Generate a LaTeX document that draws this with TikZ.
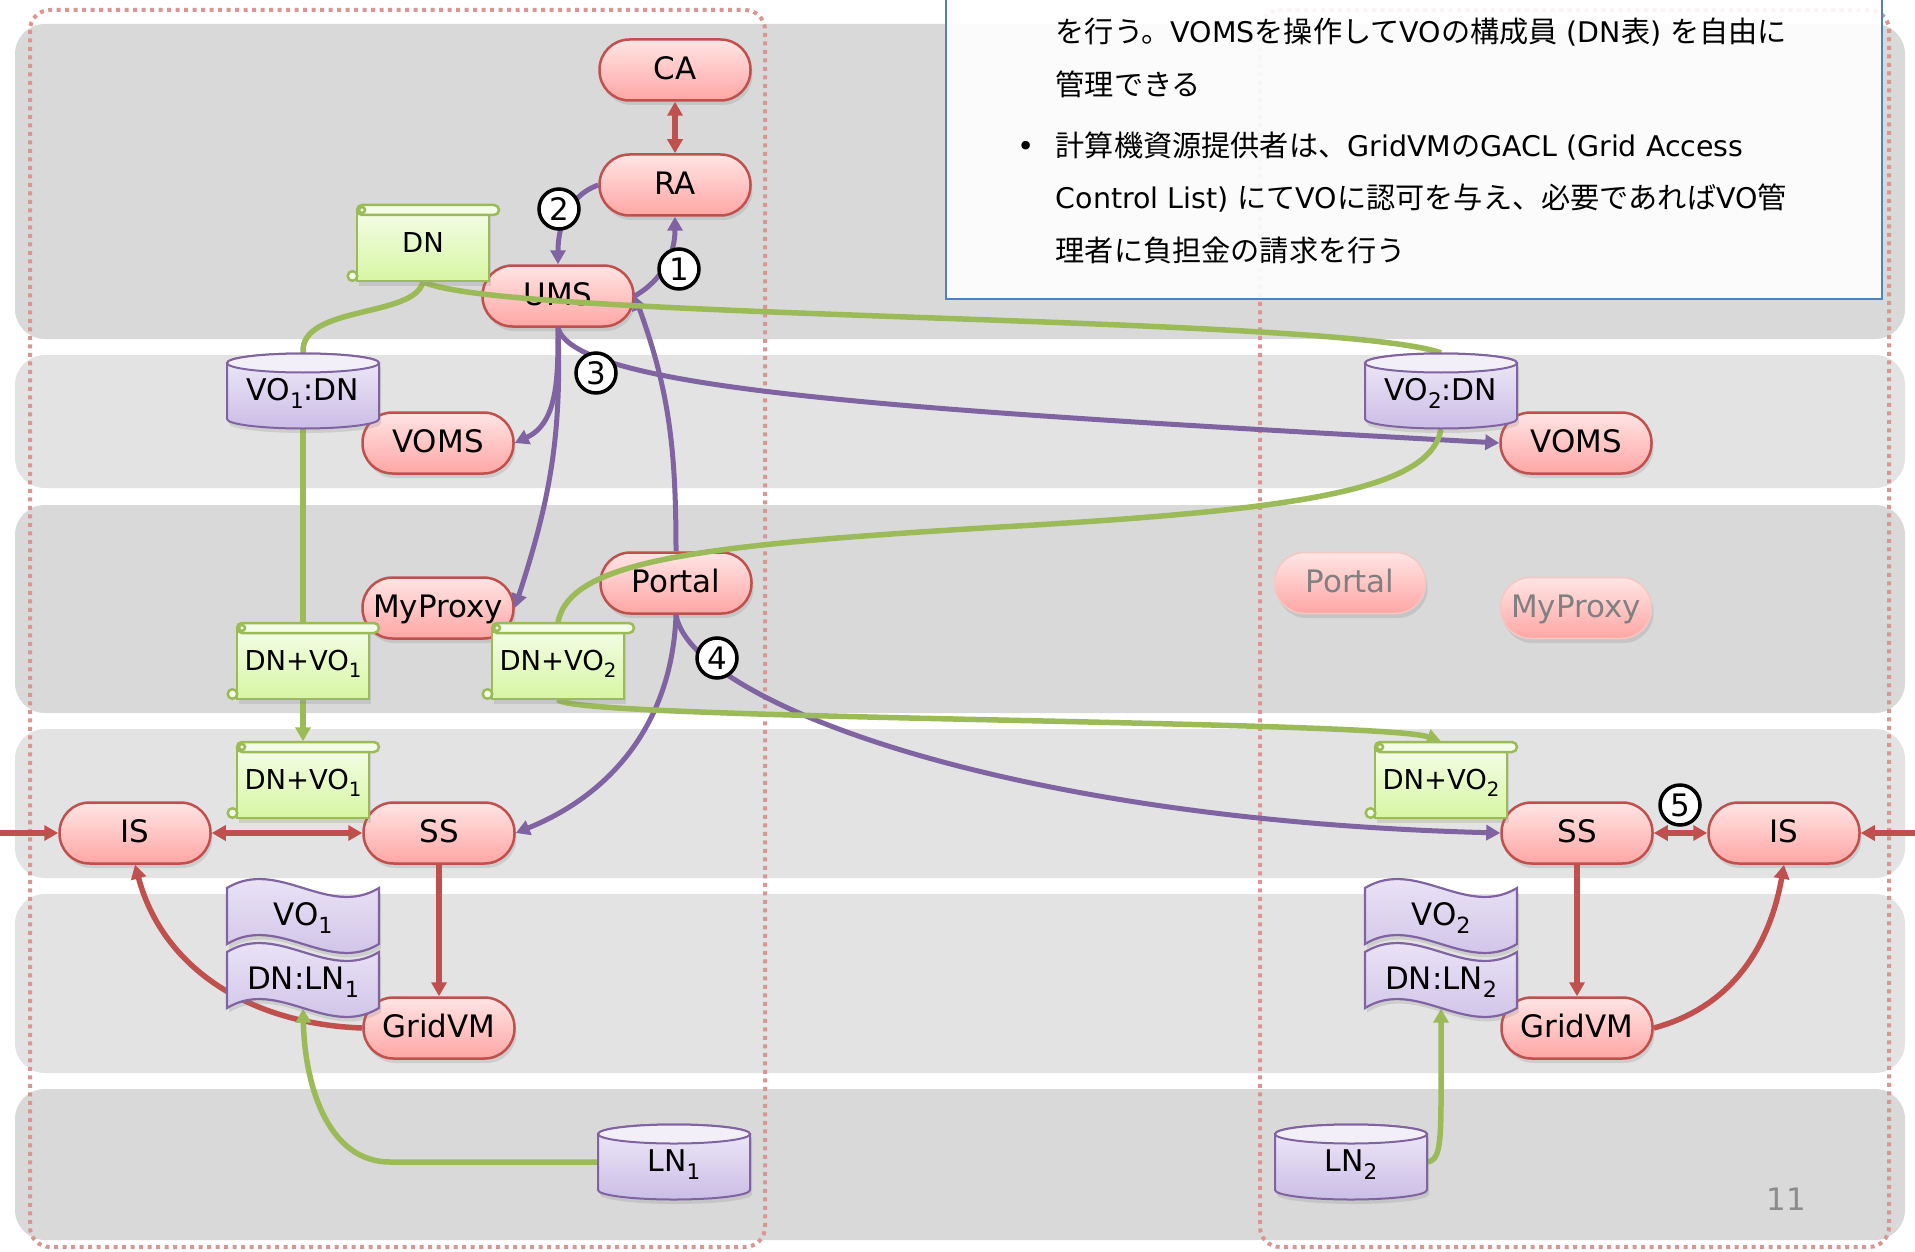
\documentclass[tikz,border=0pt]{standalone}
\usepackage{fontspec}
\usepackage{graphicx}
\setmainfont{DejaVu Sans}
\newfontfamily\jpfont{Noto Sans CJK JP}
\newfontfamily\latfont{DejaVu Sans}
\usetikzlibrary{arrows.meta,shadows}

\pgfdeclarelayer{bg}
\pgfdeclarelayer{pills}
\pgfdeclarelayer{edges}
\pgfdeclarelayer{top}
\pgfsetlayers{bg,pills,edges,main,top}

\definecolor{bandA}{RGB}{217,217,217}
\definecolor{bandB}{RGB}{227,227,227}
\definecolor{dotpink}{RGB}{217,150,148}
\definecolor{noteblue}{RGB}{79,129,189}
\definecolor{redline}{RGB}{192,80,77}
\definecolor{purpline}{RGB}{128,100,162}
\definecolor{grnline}{RGB}{155,187,89}
\definecolor{pinktop}{RGB}{255,229,229}
\definecolor{pinkbot}{RGB}{255,166,164}
\definecolor{lilactop}{RGB}{240,235,248}
\definecolor{lilacbot}{RGB}{203,189,230}
\definecolor{lilaclid}{RGB}{243,239,249}
\definecolor{limetop}{RGB}{243,253,230}
\definecolor{limebot}{RGB}{215,246,162}
\definecolor{fadeline}{RGB}{242,200,196}
\definecolor{fadetext}{RGB}{128,128,128}
\definecolor{pagegray}{RGB}{140,140,140}

\newcommand\pillfont{\fontsize{8.8pt}{10pt}\selectfont}
\newcommand\drumfont{\fontsize{8.5pt}{10pt}\selectfont}
\newcommand\scrollfont{\fontsize{7.8pt}{9pt}\selectfont}
\newcommand\idx[1]{\raisebox{-0.45ex}{\scalebox{0.72}{#1}}}
% Latin runs inside the Japanese note
\newcommand\lat[1]{{\latfont\fontsize{8.1pt}{10pt}\selectfont #1}}

\tikzset{
  >={Triangle[length=1.4mm,width=1.5mm]},
  shadowed/.style={drop shadow={shadow xshift=0.2mm, shadow yshift=-0.45mm, opacity=0.22}},
  pill/.style={rectangle, rounded corners=3mm, minimum width=15.1mm, minimum height=6.1mm,
    inner sep=0pt, draw=redline, line width=0.25mm, top color=pinktop, bottom color=pinkbot,
    shadowed, font=\pillfont, text height=0.75em, text depth=0.2em},
  ghostpill/.style={pill, draw=fadeline, line width=0.15mm, text=fadetext},
  drumbody/.style={draw=purpline, line width=0.2mm, top color=lilactop, bottom color=lilacbot, shadowed},
  drumlid/.style={draw=purpline, line width=0.2mm, fill=lilaclid},
  drumtext/.style={inner sep=0pt, minimum width=15.2mm, minimum height=7.5mm, font=\drumfont,
    text height=0.75em, text depth=0.2em},
  scrollbody/.style={draw=grnline, line width=0.25mm, top color=limetop, bottom color=limebot, shadowed},
  scrollcurl/.style={draw=grnline, line width=0.25mm, fill=limetop},
  scrolltext/.style={inner sep=0pt, minimum width=13.2mm, minimum height=7.6mm, font=\scrollfont,
    text height=0.75em, text depth=0.2em},
  wavebody/.style={draw=purpline, line width=0.22mm, top color=lilactop, bottom color=lilacbot, shadowed},
  wavetext/.style={inner sep=0pt, minimum width=15.2mm, minimum height=5.6mm, font=\pillfont,
    text height=0.75em, text depth=0.2em},
  outline/.style={draw=dotpink, line width=0.4mm, dash pattern=on 0.4mm off 0.45mm, rounded corners=2mm},
  notebox/.style={draw=noteblue, line width=0.2mm, fill=white, fill opacity=0.9, text opacity=1},
  jpline/.style={anchor=base west, inner sep=0pt, font=\jpfont\fontsize{8.3pt}{10pt}\selectfont},
  redarr/.style={draw=redline, line width=0.55mm, ->},
  redboth/.style={draw=redline, line width=0.65mm, <->},
  purparr/.style={draw=purpline, line width=0.5mm, ->},
  greenrun/.style={draw=grnline, line width=0.55mm},
  greenarr/.style={greenrun, ->},
  numdisc/.style={circle, draw=black, line width=0.35mm, fill=white, minimum size=4mm,
    inner sep=0pt, font=\pillfont},
}

% cylinder with a label node on top
\newcommand\drumshape[3]{%
  \begin{scope}[shift={#2}]
    \path[drumbody] (-76,28) -- (-76,-28)
      arc[start angle=180,end angle=360,x radius=7.6mm,y radius=0.95mm] -- (76,28)
      arc[start angle=0,end angle=180,x radius=7.6mm,y radius=0.95mm] -- cycle;
    \path[drumlid] (0,28) ellipse[x radius=7.6mm,y radius=0.95mm];
  \end{scope}
  \node[drumtext] (#1) at #2 {#3};
}
% vertical scroll with a label node
\newcommand\scrollshape[3]{%
  \begin{scope}[shift={#2}]
    \path[scrollbody] (-66,-38) rectangle (66,31);
    \path[scrollcurl] (-70.5,-33) circle[radius=0.48mm];
    \path[scrollcurl, rounded corners=0.5mm] (-66,28) rectangle (76,38);
    \path[scrollcurl] (-61,33) circle[radius=0.3mm];
  \end{scope}
  \node[scrolltext] (#1) at #2 {#3};
}
% wavy banner with a label node
\newcommand\waveshape[3]{%
  \begin{scope}[shift={#2}]
    \path[wavebody] (-76,28) .. controls (-25,59) and (25,-3) .. (76,28) -- (76,-28)
      .. controls (25,-59) and (-25,3) .. (-76,-28) -- cycle;
  \end{scope}
  \node[wavetext] (#1) at #2 {#3};
}

\begin{document}
\begin{tikzpicture}[x=0.1mm, y=0.1mm]
\useasboundingbox (0,0) rectangle (1915,-1252);

% ---------- background bands, domain outlines, note ----------
\begin{pgfonlayer}{bg}
  \fill[bandA, rounded corners=3mm] (15,-24) rectangle (1905,-339);
  \fill[bandB, rounded corners=3mm] (15,-355) rectangle (1905,-488);
  \fill[bandA, rounded corners=3mm] (15,-505) rectangle (1905,-713);
  \fill[bandB, rounded corners=3mm] (15,-729) rectangle (1905,-878);
  \fill[bandB, rounded corners=3mm] (15,-894) rectangle (1905,-1073);
  \fill[bandA, rounded corners=3mm] (15,-1089) rectangle (1905,-1240);

  \draw[outline] (30,-10) rectangle (765,-1247);
  \draw[outline] (1260,-10) rectangle (1889,-1247);

  \node[notebox, anchor=north west, minimum width=93.6mm, minimum height=30.8mm, inner sep=0pt]
    (note) at (945,10) {};
  \node[jpline] (jl1) at (1055,-43) {を行う。\lat{VOMS}を操作して\lat{VO}の構成員\lat{ (DN}表\lat{) }を自由に};
  \node[jpline] (jl2) at (1055,-96) {管理できる};
  \node[anchor=base west, inner sep=0pt, font=\fontsize{8.3pt}{10pt}\selectfont] (jbullet) at (1017,-157) {•};
  \node[jpline] (jl3) at (1055,-157) {計算機資源提供者は、\lat{GridVM}の\lat{GACL (Grid Access}};
  \node[jpline] (jl4) at (1055,-209) {\lat{Control List) }にて\lat{VO}に認可を与え、必要であれば\lat{VO}管};
  \node[jpline] (jl5) at (1055,-261) {理者に負担金の請求を行う};

  \node[inner sep=0pt, font=\pillfont, text=pagegray] (pageno) at (1786,-1199) {11};
\end{pgfonlayer}

% ---------- service nodes ----------
\begin{pgfonlayer}{pills}
  \node[pill] (CA) at (675,-70) {CA};
  \node[pill] (RA) at (675,-185) {RA};
  \node[pill] (UMS) at (558,-296) {UMS};
  \node[pill] (VOMS1) at (438,-443) {VOMS};
  \node[pill] (MyProxy1) at (438,-608) {MyProxy};
  \node[pill] (Portal1) at (676,-583) {Portal};
  \node[pill] (IS1) at (135,-833) {IS};
  \node[pill] (SS1) at (439,-833) {SS};
  \node[pill] (GridVM1) at (439,-1028) {GridVM};
  \node[pill] (VOMS2) at (1576,-443) {VOMS};
  \node[ghostpill] (Portal2) at (1350,-583) {Portal};
  \node[ghostpill] (MyProxy2) at (1576,-608) {MyProxy};
  \node[pill] (SS2) at (1577,-833) {SS};
  \node[pill] (IS2) at (1784,-833) {IS};
  \node[pill] (GridVM2) at (1577,-1028) {GridVM};
\end{pgfonlayer}

% ---------- data stores, documents, tables ----------
\drumshape{VO1DN}{(303,-391)}{VO\idx{1}:DN}
\drumshape{VO2DN}{(1441,-391)}{VO\idx{2}:DN}
\drumshape{LN1}{(674,-1162)}{LN\idx{1}}
\drumshape{LN2}{(1351,-1162)}{LN\idx{2}}
\scrollshape{DN}{(423,-243)}{DN}
\scrollshape{DNVO1a}{(303,-661)}{DN+VO\idx{1}}
\scrollshape{DNVO2a}{(558,-661)}{DN+VO\idx{2}}
\scrollshape{DNVO1b}{(303,-780)}{DN+VO\idx{1}}
\scrollshape{DNVO2b}{(1441,-780)}{DN+VO\idx{2}}
\waveshape{VO1}{(303,-916)}{VO\idx{1}}
\waveshape{DNLN1}{(303,-980)}{DN:LN\idx{1}}
\waveshape{VO2}{(1441,-916)}{VO\idx{2}}
\waveshape{DNLN2}{(1441,-980)}{DN:LN\idx{2}}

\coordinate (inL) at (0,-833);
\coordinate (inR) at (1915,-833);

% ---------- connectors ----------
\begin{pgfonlayer}{edges}
  % certificate issuing
  \draw[redboth] (CA) -- (RA);
  \draw[purparr] (UMS.east) to[out=30, in=-90] (RA.south);
  \draw[purparr] (RA.west) to[out=200, in=90] (UMS.north);
  \draw[purparr] (Portal1.north) to[out=90, in=-70] (UMS.east);
  % VO registration and proxies
  \draw[purparr] (UMS.south) to[out=-90, in=25] (VOMS1.east);
  \draw[purparr] (UMS.south) to[out=-88, in=72] (MyProxy1.east);
  \draw[purparr] (UMS.south) .. controls (575,-390) and (900,-410) .. (VOMS2.west);
  % job submission
  \draw[purparr] (Portal1.south) to[out=-92, in=22] (SS1.east);
  \draw[purparr] (Portal1.south) .. controls (690,-700) and (1000,-820) .. (SS2.west);
  % scheduling and information
  \draw[redarr] (inL) -- (IS1);
  \draw[redboth] (IS1) -- (SS1);
  \draw[redarr] (SS1) -- (GridVM1);
  \draw[redarr] (GridVM1.west) to[out=178, in=-75] (IS1.south);
  \draw[redarr] (inR) -- (IS2);
  \draw[redboth] (SS2) -- (IS2);
  \draw[redarr] (SS2) -- (GridVM2);
  \draw[redarr] (GridVM2.east) to[out=15, in=-100] (IS2.south);
  % credentials
  \draw[greenrun] (DN.south) .. controls (415,-318) and (300,-305) .. (VO1DN.north);
  \draw[greenrun] (DN.south) .. controls (500,-320) and (1330,-315) .. (VO2DN.north);
  \draw[greenrun] (VO1DN.south) -- (DNVO1a.north);
  \draw[greenarr] (DNVO1a.south) -- (DNVO1b.north);
  \draw[greenrun] (VO2DN.south) .. controls (1430,-490) and (1300,-510) .. (1000,-527)
    .. controls (700,-545) and (570,-560) .. (DNVO2a.north);
  \draw[greenarr] (DNVO2a.south) .. controls (570,-720) and (1380,-720) .. (DNVO2b.north);
  \draw[greenarr] (LN1.west) -- (390,-1162) .. controls (330,-1162) and (305,-1090) .. (DNLN1.south);
  \draw[greenarr] (LN2.east) .. controls (1438,-1160) and (1441,-1150) .. (1441,-1100) -- (DNLN2.south);
\end{pgfonlayer}

% ---------- step numbers ----------
\begin{pgfonlayer}{top}
  \node[numdisc] (n1) at (679,-269) {1};
  \node[numdisc] (n2) at (559,-209) {2};
  \node[numdisc] (n3) at (596,-373) {3};
  \node[numdisc] (n4) at (717,-658) {4};
  \node[numdisc] (n5) at (1680,-805) {5};
\end{pgfonlayer}
\end{tikzpicture}
\end{document}
